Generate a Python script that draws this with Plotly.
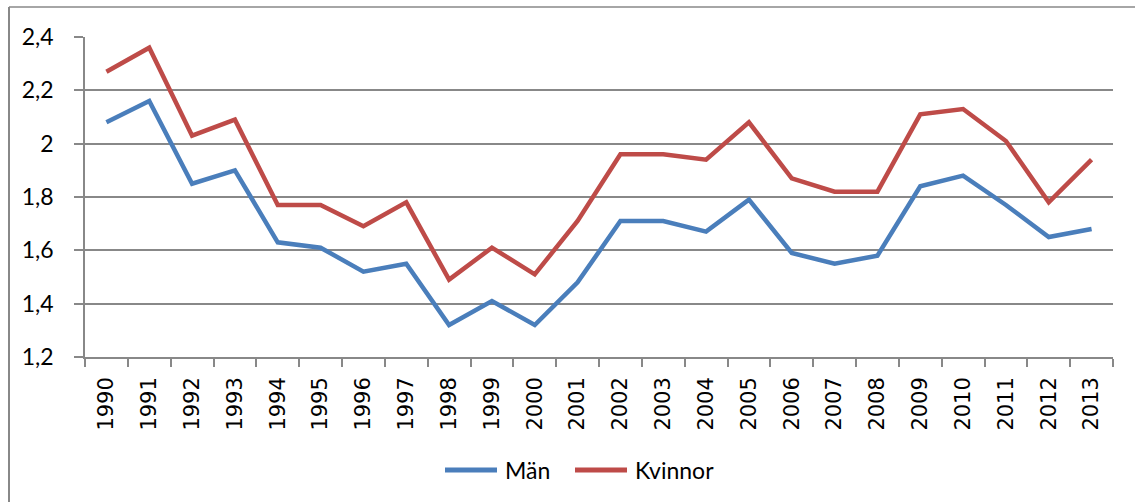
import plotly.graph_objects as go

years = [str(y) for y in range(1990, 2014)]
man = [2.08, 2.16, 1.85, 1.90, 1.63, 1.61, 1.52, 1.55, 1.32, 1.41, 1.32, 1.48,
       1.71, 1.71, 1.67, 1.79, 1.59, 1.55, 1.58, 1.84, 1.88, 1.77, 1.65, 1.68]
kvinnor = [2.27, 2.36, 2.03, 2.09, 1.77, 1.77, 1.69, 1.78, 1.49, 1.61, 1.51, 1.71,
           1.96, 1.96, 1.94, 2.08, 1.87, 1.82, 1.82, 2.11, 2.13, 2.01, 1.78, 1.94]
yticks = [1.2, 1.4, 1.6, 1.8, 2.0, 2.2, 2.4]
series_names = ["Män", "Kvinnor"]
series_colors = ["#4A7EBB", "#BE4B48"]

FONT = "Lato"
XFONT = "DejaVu Sans"
GRID = "#888888"

fig = go.Figure()
for name, vals, col in zip(series_names, [man, kvinnor], series_colors):
    fig.add_trace(go.Scatter(x=years, y=vals, mode="lines", name=name,
                             line=dict(color=col, width=4.5)))

L, R, T, B = 85, 22, 37, 145
W, H = 1135, 502
pw = W - L - R
ph = H - T - B

def px_x(x):
    return (x - L) / pw

def px_y(y):
    return (H - B - y) / ph

fig.update_layout(
    width=W, height=H,
    margin=dict(l=L, r=R, t=T, b=B, pad=0, autoexpand=False),
    paper_bgcolor="white", plot_bgcolor="white",
    separators=", ",
    font=dict(family=FONT, color="black", size=22),
    showlegend=False,
    xaxis=dict(type="category", range=[-0.5, len(years) - 0.5],
               showgrid=False, showline=True, linecolor=GRID, linewidth=1.5,
               ticks="outside", tickson="boundaries", ticklen=8, tickcolor=GRID, tickwidth=1.5,
               tickangle=-90, tickfont=dict(size=21, family=XFONT), ticklabelstandoff=10),
    yaxis=dict(range=[1.2, 2.4], tickvals=yticks, ticktext=[("%g" % v).replace(".", ",") for v in yticks],
               showgrid=True, gridcolor=GRID, gridwidth=1.5,
               showline=True, linecolor=GRID, linewidth=1.5,
               ticks="outside", ticklen=9, tickcolor=GRID, tickwidth=1.5,
               tickfont=dict(size=23, family=FONT), ticklabelstandoff=16, zeroline=False),
)

# legend (drawn manually to match the reference's longer line samples)
leg_y = px_y(470)
leg_items = [(445, 497, 503), (575, 627, 633)]
for (x0, x1, tx), name, col in zip(leg_items, series_names, series_colors):
    fig.add_shape(type="line", xref="paper", yref="paper", x0=px_x(x0), x1=px_x(x1),
                  y0=leg_y, y1=leg_y, line=dict(color=col, width=5))
    fig.add_annotation(xref="paper", yref="paper", x=px_x(tx), y=leg_y, text=name,
                       showarrow=False, xanchor="left", yanchor="middle",
                       font=dict(size=23, family=FONT, color="black"))

# outer chart frame (left and top edges)
fx = px_x(9)
fy = px_y(7)
fig.add_shape(type="line", xref="paper", yref="paper", x0=fx, x1=px_x(W + 10), y0=fy, y1=fy,
              line=dict(color=GRID, width=1.5))
fig.add_shape(type="line", xref="paper", yref="paper", x0=fx, x1=fx, y0=fy, y1=px_y(H + 10),
              line=dict(color=GRID, width=2))

fig.write_html("out.html", config={"displayModeBar": False})

# remove default page margin so the figure sits at the window's origin
with open("out.html", encoding="utf-8") as f:
    html = f.read()
html = html.replace("<head>", "<head><style>html,body{margin:0;padding:0;overflow:hidden;}</style>", 1)
with open("out.html", "w", encoding="utf-8") as f:
    f.write(html)
